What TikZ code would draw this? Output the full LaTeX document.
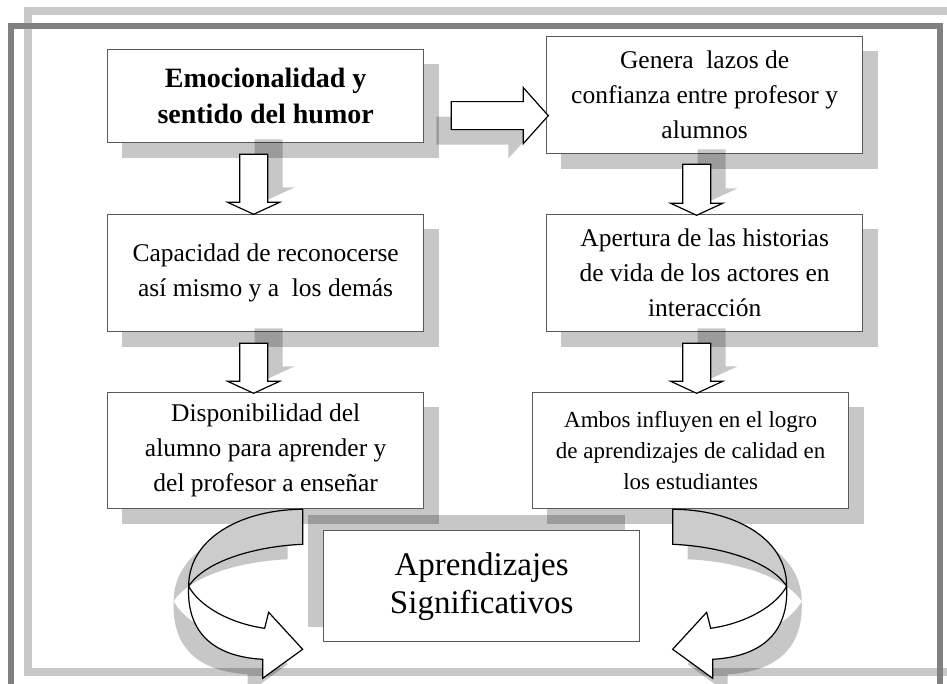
\documentclass[tikz,border=0pt]{standalone}
\usepackage{fontspec}
\setmainfont{Liberation Serif}
\usetikzlibrary{calc}
\pgfdeclarelayer{bg}
\pgfsetlayers{bg,main}
\definecolor{framedark}{HTML}{808080}
\definecolor{framelight}{HTML}{C8C8C8}
\definecolor{boxline}{HTML}{5A5A5A}
\definecolor{backface}{HTML}{CCCCCC}
\tikzset{
 bx/.style={draw=boxline, line width=1.3pt, fill=white, align=center, inner sep=0pt, anchor=north west},
 shd/.style={fill=black, fill opacity=0.22, draw=none},
 blk/.style={draw=black, line width=1.2pt, fill=white, line join=miter},
 txtA/.style={font=\fontsize{28}{36}\selectfont\bfseries},
 txtB/.style={font=\fontsize{25.5}{35}\selectfont},
 txtD/.style={font=\fontsize{23}{31}\selectfont},
 txtG/.style={font=\fontsize{33}{38}\selectfont},
 pics/downblk/.style={code={
   \fill[shd, shift={(15,-15)}] (-14,0) -- (14,0) -- (14,#1-12) -- (26,#1-12) -- (0,#1) -- (-26,#1-12) -- (-14,#1-12) -- cycle;
   \draw[blk] (-14,0) -- (14,0) -- (14,#1-12) -- (26,#1-12) -- (0,#1) -- (-26,#1-12) -- (-14,#1-12) -- cycle;
 }},
 pics/rightblk/.style={code={
   \fill[shd, shift={(-15,15)}] (0,-14) -- (#1-25,-14) -- (#1-25,-28) -- (#1,0) -- (#1-25,28) -- (#1-25,14) -- (0,14) -- cycle;
   \draw[blk] (0,-14) -- (#1-25,-14) -- (#1-25,-28) -- (#1,0) -- (#1-25,28) -- (#1-25,14) -- (0,14) -- cycle;
 }},
 pics/curvedblk/.style={code={
   \begin{scope}[xscale=#1]
   \fill[shd, shift={(15,15)}] (0,0) .. controls (58,0) and (114,27) .. (114,77) .. controls (116,120) and (93,147) .. (40,150) -- (40,169) -- (0,140) -- (34,103) -- (38,119) .. controls (73,114) and (103,97) .. (114,77) .. controls (98,52) and (48,37) .. (0,35) -- cycle;
   \fill[white] (0,0) .. controls (58,0) and (114,27) .. (114,77) .. controls (116,120) and (93,147) .. (40,150) -- (40,169) -- (0,140) -- (34,103) -- (38,119) .. controls (73,114) and (103,97) .. (114,77) .. controls (98,52) and (48,37) .. (0,35) -- cycle;
   \fill[backface] (0,0) .. controls (58,0) and (114,27) .. (114,77) .. controls (98,52) and (48,37) .. (0,35) -- cycle;
   \draw[blk, fill=none] (0,0) .. controls (58,0) and (114,27) .. (114,77) .. controls (116,120) and (93,147) .. (40,150) -- (40,169) -- (0,140) -- (34,103) -- (38,119) .. controls (73,114) and (103,97) .. (114,77) .. controls (98,52) and (48,37) .. (0,35) -- cycle;
   \end{scope}
 }},
}
\begin{document}
\begin{tikzpicture}[x=1pt,y=-1pt]
\useasboundingbox (0,0) rectangle (947,684);
\clip (0,0) rectangle (947,684);
% frames
\draw[framelight, line width=8pt] (28,11) rectangle (960,672);
\draw[framedark, line width=6pt] (11,26) rectangle (939.5,690);
% boxes
\node[bx, txtA, minimum width=316pt, minimum height=93pt] (A) at (107,49) {Emocionalidad y\\sentido del humor};
\node[bx, txtB, minimum width=316pt, minimum height=117pt] (B) at (546,36) {Genera~ lazos de\\confianza entre profesor y\\alumnos};
\node[bx, txtB, minimum width=316pt, minimum height=117pt] (E) at (107,214) {Capacidad de reconocerse\\así mismo y a~ los demás};
\node[bx, txtB, minimum width=316pt, minimum height=117pt] (C) at (546,214) {Apertura de las historias\\de vida de los actores en\\interacción};
\node[bx, txtB, minimum width=316pt, minimum height=116pt] (F) at (107,392) {Disponibilidad del\\alumno para aprender y\\del profesor a enseñar};
\node[bx, txtD, minimum width=316pt, minimum height=116pt] (D) at (532,392) {Ambos influyen en el logro\\de aprendizajes de calidad en\\los estudiantes};
\node[bx, txtG, minimum width=316pt, minimum height=111pt] (G) at (323,530) {Aprendizajes\\Significativos};
% box shadows
\begin{pgfonlayer}{bg}
\foreach \n in {A,B,C,D,E,F}
  \fill[shd] ([shift={(15pt,-15pt)}]\n.north west) rectangle ([shift={(15pt,-15pt)}]\n.south east);
\fill[shd] ([shift={(-15pt,15pt)}]G.north west) rectangle ([shift={(-15pt,15pt)}]G.south east);
\end{pgfonlayer}
% block arrows
\pic at ($(A.east)+(27,19.5)$) {rightblk=97};
\pic at ($(A.south)+(-12,11)$) {downblk=60};
\pic at ($(E.south)+(-12,11)$) {downblk=50};
\pic at ($(B.south)+(-8,10)$) {downblk=51};
\pic at ($(C.south)+(-8,11)$) {downblk=50};
% curved arrows
\pic at ($(D.south)+(-18,0)$) {curvedblk=1};
\pic at ($(F.south)+(37,0)$) {curvedblk=-1};
\end{tikzpicture}
\end{document}
